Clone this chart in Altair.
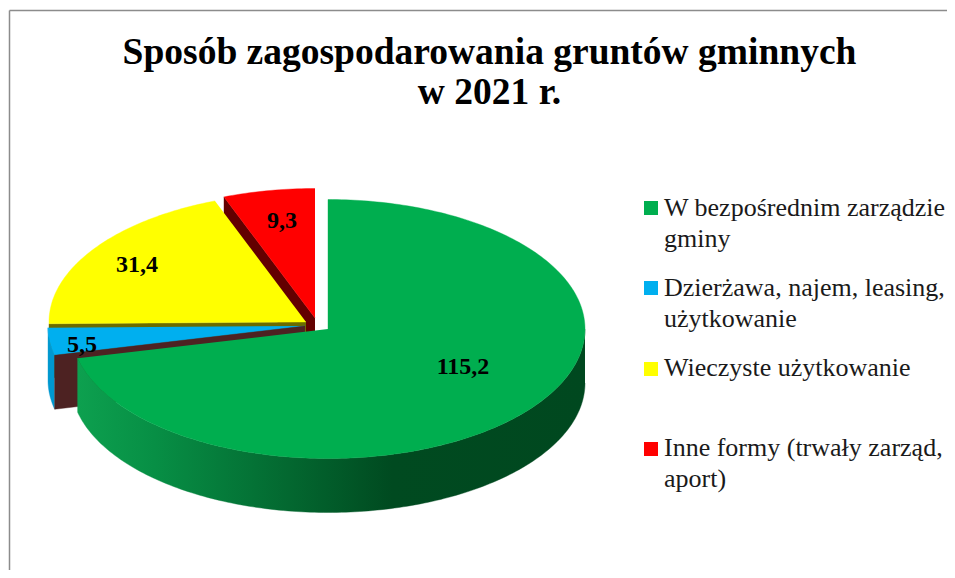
import math
import altair as alt
import pandas as pd

# --- chart data ---
categories = ["W bezpośrednim zarządzie\ngminy", "Dzierżawa, najem, leasing,\nużytkowanie",
              "Wieczyste użytkowanie", "Inne formy (trwały zarząd,\naport)"]
values = [115.2, 5.5, 31.4, 9.3]
labels = ["115,2", "5,5", "31,4", "9,3"]
colors = ["#00AE4F", "#00AFEF", "#FFFF00", "#FF0000"]
wall_colors = ["#00481F", "#4D2222", "#6B6B00", "#630000"]
title_lines = ["Sposób zagospodarowania gruntów gminnych", "w 2021 r."]

# --- 3D pie geometry (page pixels) ---
RX, RY, DEPTH = 257, 129.5, 54
centers = [(328, 329), (305, 326), (306, 322), (315, 318)]
label_pos = [(463, 367), (82, 345), (137, 265), (282, 221)]
legend_y = [208, 288, 369, 449]
label_y = [208, 288, 368, 448]

total = sum(values)
angles = [0.0]
for v in values:
    angles.append(angles[-1] + v / total * 360)


def pt(c, a, dz=0):
    r = math.radians(a)
    return (c[0] + RX * math.sin(r), c[1] - RY * math.cos(r) + dz)


def arc(c, a0, a1, dz=0):
    n = max(2, int(abs(a1 - a0)) + 2)
    return [pt(c, a0 + (a1 - a0) * k / (n - 1), dz) for k in range(n)]


X = alt.X("x:Q", scale=alt.Scale(domain=[8, 947]), axis=None)
Y = alt.Y("y:Q", scale=alt.Scale(domain=[570, 8]), axis=None)


def poly(points, fill):
    df = pd.DataFrame(points, columns=["x", "y"])
    df["i"] = range(len(df))
    return alt.Chart(df).mark_line(fill=fill, stroke=fill, strokeWidth=0.4, interpolate="linear").encode(
        x=X, y=Y, order="i:Q")


def wedge_top(idx):
    c = centers[idx]
    return poly([c] + arc(c, angles[idx], angles[idx + 1]), colors[idx])


def cut_wall(idx, a):
    c = centers[idx]
    e = pt(c, a)
    return poly([c, e, (e[0], e[1] + DEPTH), (c[0], c[1] + DEPTH)], wall_colors[idx])


def rim(idx, a0, a1, fill):
    c = centers[idx]
    return poly(arc(c, a0, a1) + arc(c, a1, a0, DEPTH), fill)


green_grad = alt.Gradient(
    gradient="linear", x1=0, y1=0, x2=1, y2=0,
    stops=[alt.GradientStop(offset=0, color="#0DA04F"),
           alt.GradientStop(offset=0.15, color="#078F45"),
           alt.GradientStop(offset=0.62, color="#004A20"),
           alt.GradientStop(offset=1, color="#00481F")])

layers = [
    cut_wall(3, angles[3]), wedge_top(3),
    cut_wall(2, angles[2]), wedge_top(2),
    rim(1, angles[1], angles[2], "#0098D0"), wedge_top(1), cut_wall(1, angles[1]),
    rim(0, 90, angles[1], green_grad), wedge_top(0),
]

serif = "Liberation Serif"

# data labels
lab_df = pd.DataFrame({"t": labels, "x": [p[0] for p in label_pos], "y": [p[1] for p in label_pos]})
layers.append(alt.Chart(lab_df).mark_text(font=serif, fontWeight="bold", fontSize=24, color="#000000",
                                          baseline="middle", align="center").encode(x=X, y=Y, text="t:N"))

# legend
leg_df = pd.DataFrame({"cat": categories, "x": [651] * 4, "y": legend_y, "ty": label_y, "tx": [664] * 4, "c": colors})
layers.append(alt.Chart(leg_df).mark_square(size=196, opacity=1).encode(
    x=X, y=Y, color=alt.Color("c:N", scale=None, legend=None)))
layers.append(alt.Chart(leg_df).mark_text(font=serif, fontSize=26, color="#1A1A1A", align="left", baseline="middle",
                                          lineBreak="\n", lineHeight=31).encode(
    x=alt.X("tx:Q", scale=alt.Scale(domain=[8, 947]), axis=None),
    y=alt.Y("ty:Q", scale=alt.Scale(domain=[570, 8]), axis=None), text="cat:N"))

# frame lines at top and left
layers.append(alt.Chart(pd.DataFrame({"a": [0]})).mark_rule(color="#8C8C8C", strokeWidth=1.5).encode(
    x=alt.value(1.5), y=alt.value(2.5), y2=alt.value(562)))
layers.append(alt.Chart(pd.DataFrame({"a": [0]})).mark_rule(color="#8C8C8C", strokeWidth=1.5).encode(
    x=alt.value(1.5), x2=alt.value(939), y=alt.value(2.5)))

chart = alt.layer(*layers).properties(
    width=939, height=562, padding=0,
    autosize=alt.AutoSizeParams(type="none"),
    background="white",
    title=alt.TitleParams(text=title_lines, font=serif, fontWeight="bold", fontSize=37.5, color="#000000",
                          lineHeight=40, anchor="middle", dx=12, offset=-133, baseline="alphabetic"),
).configure_view(stroke=None)

chart.save("out.html", embed_options={"renderer": "svg", "actions": False})
